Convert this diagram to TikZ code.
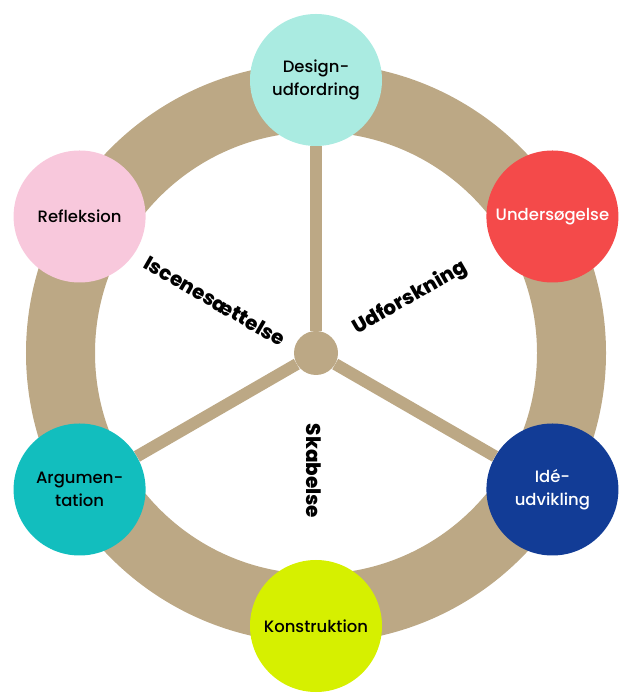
\documentclass[tikz,border=0pt]{standalone}
\usepackage{fontspec}
\setmainfont{Poppins}
\newfontfamily\phfont{Poppins Medium}
\newfontfamily\fasefont{Poppins ExtraBold}
\definecolor{pap}{RGB}{188,168,133}
\definecolor{mint}{RGB}{170,235,225}
\definecolor{rosa}{RGB}{248,200,220}
\definecolor{roed}{RGB}{244,74,74}
\definecolor{navy}{RGB}{18,60,150}
\definecolor{teal}{RGB}{18,190,190}
\definecolor{lime}{RGB}{214,240,0}

\begin{document}
\begin{tikzpicture}[x=1bp, y=1bp,
  ph/.style={circle, minimum size=132bp, inner sep=0pt, align=center,
    font=\phfont\fontsize{16.5}{23}\selectfont},
  fase/.style={font=\fasefont\fontsize{20}{20}\selectfont},
  spoke/.style={draw=pap, line width=12bp}]
\useasboundingbox (0,0) rectangle (622,697);
\coordinate (c) at (316,344);
\draw[pap, line width=69bp] (c) circle[radius=255.5];
\node[circle, fill=pap, minimum size=44bp, inner sep=0pt] (hub) at (c) {};
\path (c) ++(90:273)  node[ph, fill=mint] (des) {Design-\\udfordring};
\path (c) ++(30:273)  node[ph, fill=roed, text=white] (und) {Undersøgelse};
\path (c) ++(-30:273) node[ph, fill=navy, text=white] (ide) {Idé-\\udvikling};
\path (c) ++(-90:273) node[ph, fill=lime] (kon) {Konstruktion};
\path (c) ++(210:273) node[ph, fill=teal] (arg) {Argumen-\\tation};
\path (c) ++(150:273) node[ph, fill=rosa] (ref) {Refleksion};
\draw[spoke] (hub) -- (des);
\draw[spoke] (hub) -- (ide);
\draw[spoke] (hub) -- (arg);
\node[fase, rotate=-30] (isc) at (215,396) {Iscenesættelse};
\node[fase, rotate=30] (udf) at (410,399) {Udforskning};
\node[fase, rotate=-90] (ska) at (314,226) {Skabelse};
\end{tikzpicture}
\end{document}
